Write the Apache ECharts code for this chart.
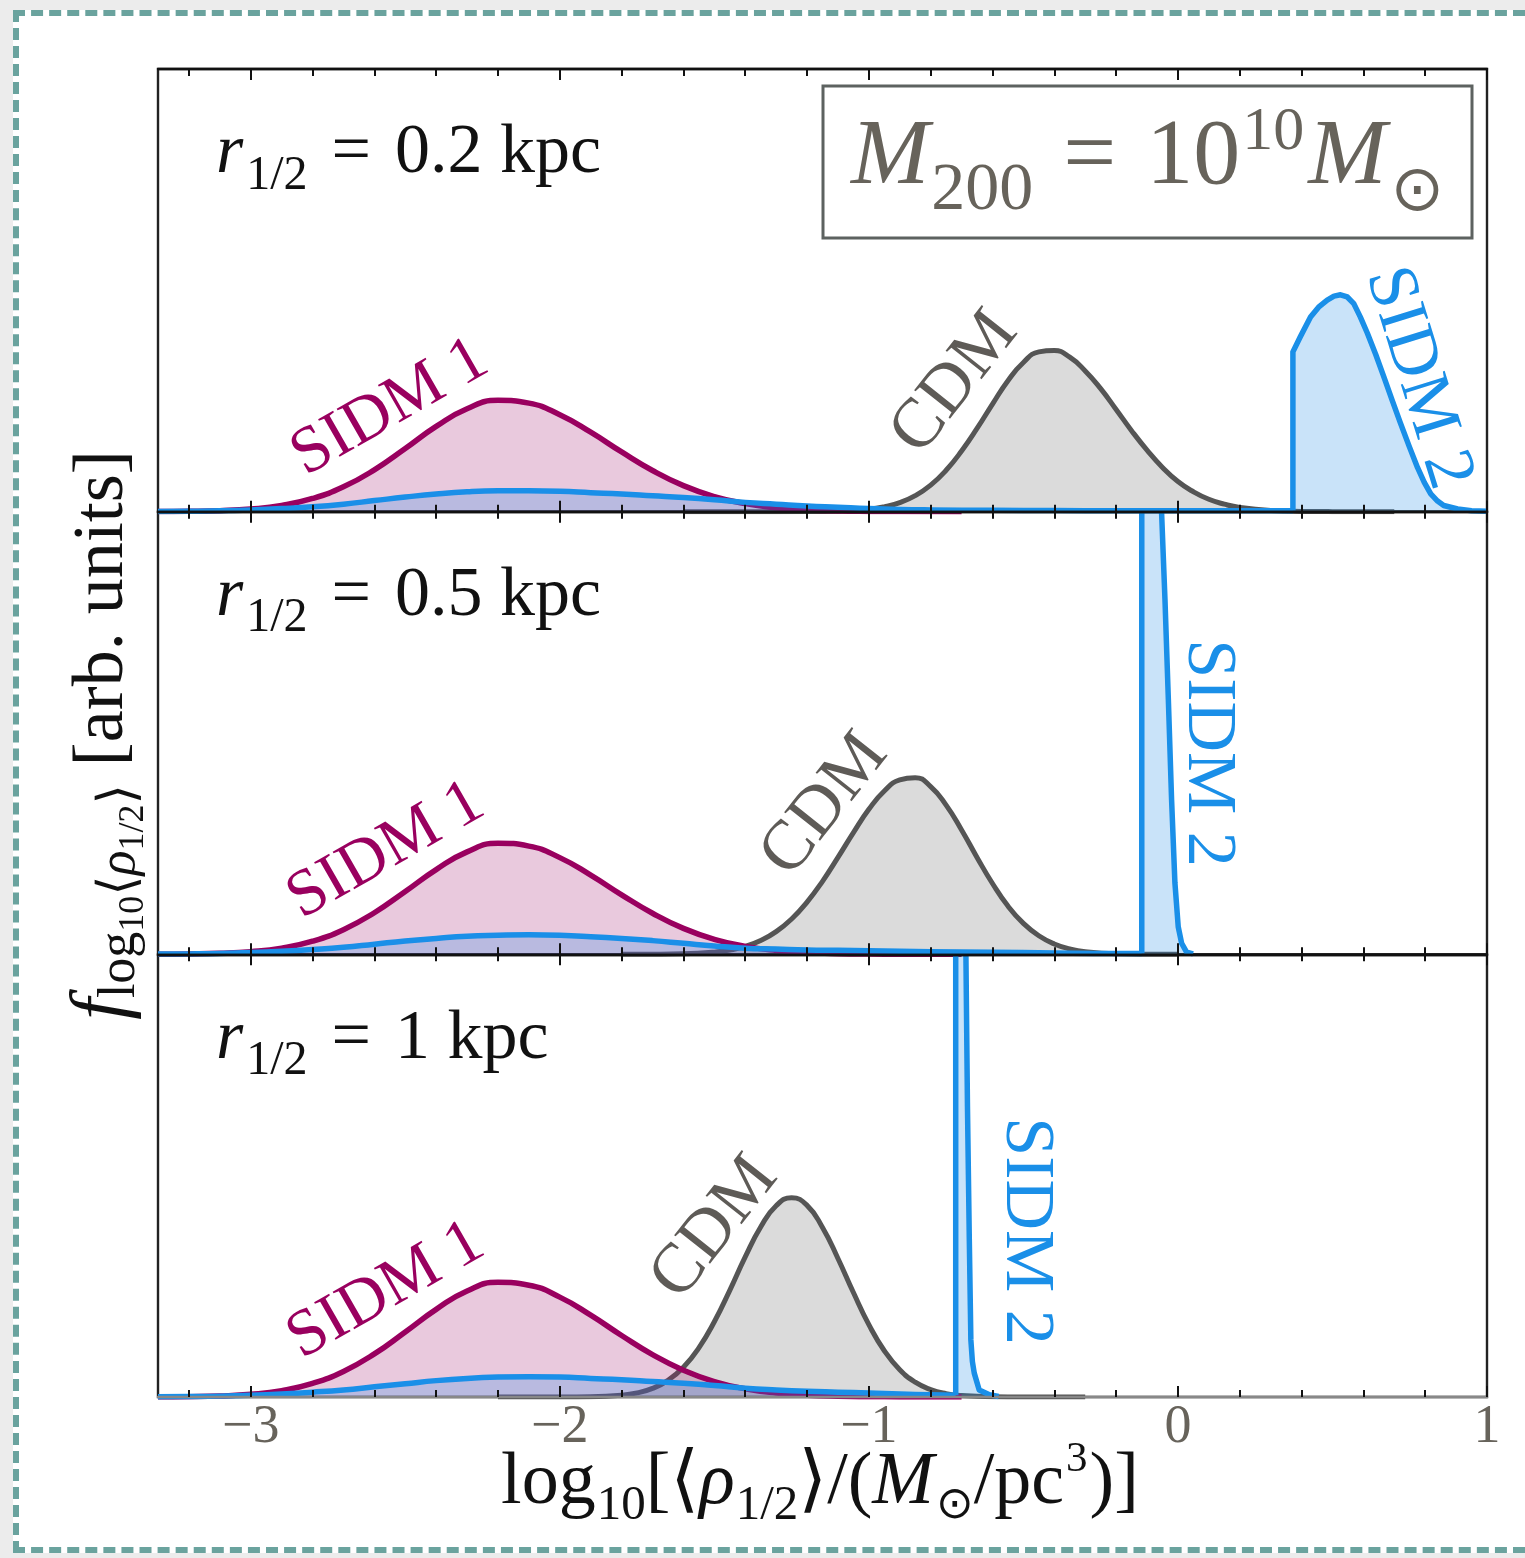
<!DOCTYPE html>
<html>
<head>
<meta charset="utf-8">
<script src="https://cdn.jsdelivr.net/npm/echarts@6/dist/echarts.min.js"></script>
<style>
html,body{margin:0;padding:0;background:#ececec;overflow:hidden;width:1525px;height:1558px;}
#frame{position:absolute;left:13px;top:10px;width:1512px;height:1543px;box-sizing:border-box;border:6px dashed #6aa39e;border-right:none;background:#fff;}
#chart{position:absolute;left:0;top:0;width:1525px;height:1558px;}
</style>
</head>
<body>
<div id="frame"></div>
<div id="chart"></div>
<script>
// ---------------- data ----------------
const X_MIN = -3.3, X_MAX = 1.0;
const MAJOR_TICKS = [-3, -2, -1, 0, 1];
const MINOR_TICKS = [-3.2, -2.8, -2.6, -2.4, -2.2, -1.8, -1.6, -1.4, -1.2, -0.8, -0.6, -0.4, -0.2, 0.2, 0.4, 0.6, 0.8];
const PANEL_RADII = ['0.2 kpc', '0.5 kpc', '1 kpc'];
const SERIES_NAMES = ['CDM', 'SIDM 1', 'SIDM 2'];

// panel 1 : r1/2 = 0.2 kpc
const cdmA = [[-1.6,0],[-1.4,0],[-1.2,0.0002],[-1.1,0.0011],[-1.0,0.0054],[-0.95,0.0109],[-0.9,0.0205],[-0.85,0.0362],[-0.8,0.060],[-0.75,0.0935],[-0.7,0.137],[-0.65,0.188],[-0.6,0.243],[-0.55,0.296],[-0.5,0.337],[-0.45,0.361],[-0.4,0.364],[-0.35,0.349],[-0.3,0.318],[-0.25,0.278],[-0.2,0.231],[-0.15,0.183],[-0.1,0.139],[-0.05,0.100],[0.0,0.068],[0.05,0.045],[0.1,0.028],[0.15,0.017],[0.2,0.0096],[0.3,0.0027],[0.4,0.0006],[0.5,0.0001],[0.7,0]];
const sidm1A = [[-3.3,0.0002],[-3.2,0.0008],[-3.1,0.0023],[-3.0,0.006],[-2.9,0.0141],[-2.8,0.0298],[-2.7,0.0561],[-2.6,0.0945],[-2.5,0.1427],[-2.4,0.1926],[-2.3,0.2326],[-2.2,0.2515],[-2.1,0.2452],[-2.0,0.219],[-1.9,0.1795],[-1.8,0.1349],[-1.7,0.093],[-1.6,0.0588],[-1.5,0.034],[-1.4,0.0181],[-1.3,0.0088],[-1.2,0.004],[-1.1,0.0016],[-1.0,0.0006],[-0.9,0.0002],[-0.7,0]];
const sidm2BroadA = [[-3.3,0.0005],[-3.2,0.001],[-3.1,0.002],[-3.0,0.004],[-2.9,0.007],[-2.8,0.011],[-2.7,0.017],[-2.6,0.025],[-2.5,0.033],[-2.4,0.040],[-2.3,0.045],[-2.2,0.047],[-2.1,0.047],[-2.0,0.046],[-1.9,0.043],[-1.8,0.040],[-1.7,0.036],[-1.6,0.032],[-1.5,0.027],[-1.4,0.021],[-1.3,0.017],[-1.2,0.013],[-1.1,0.010],[-1.0,0.007],[-0.9,0.005],[-0.8,0.004],[-0.6,0.003],[-0.4,0.0025],[-0.2,0.002],[0.0,0.002],[0.2,0.002],[0.372,0.002]];
const sidm2PeakA = [[0.372,0.002],[0.372,0.361],[0.396,0.395],[0.429,0.44],[0.455,0.462],[0.483,0.478],[0.505,0.487],[0.526,0.49],[0.548,0.485],[0.569,0.47],[0.59,0.44],[0.613,0.403],[0.64,0.355],[0.666,0.305],[0.693,0.252],[0.72,0.2],[0.748,0.148],[0.775,0.10],[0.797,0.066],[0.818,0.04],[0.84,0.024],[0.86,0.014],[0.905,0.006],[0.95,0.002],[1.0,0.001]];

// panel 2 : r1/2 = 0.5 kpc
const cdmB = [[-1.8,0],[-1.7,0.0002],[-1.6,0.0011],[-1.5,0.005],[-1.45,0.0098],[-1.4,0.0179],[-1.35,0.0311],[-1.3,0.0512],[-1.25,0.0798],[-1.2,0.118],[-1.15,0.165],[-1.1,0.219],[-1.05,0.275],[-1.0,0.3275],[-0.95,0.369],[-0.9,0.394],[-0.85,0.399],[-0.8,0.379],[-0.75,0.337],[-0.7,0.281],[-0.65,0.219],[-0.6,0.160],[-0.55,0.109],[-0.5,0.070],[-0.45,0.042],[-0.4,0.0235],[-0.35,0.0124],[-0.3,0.0061],[-0.2,0.0012],[-0.1,0.0002],[0.0,0]];
const sidm1B = [[-3.3,0.0002],[-3.2,0.0008],[-3.1,0.0023],[-3.0,0.006],[-2.9,0.014],[-2.8,0.0296],[-2.7,0.0558],[-2.6,0.094],[-2.5,0.142],[-2.4,0.1915],[-2.3,0.2315],[-2.2,0.251],[-2.1,0.2445],[-2.0,0.2185],[-1.9,0.179],[-1.8,0.1345],[-1.7,0.0928],[-1.6,0.0586],[-1.5,0.0339],[-1.4,0.018],[-1.3,0.0088],[-1.2,0.004],[-1.1,0.0016],[-1.0,0.0006],[-0.9,0.0002],[-0.7,0]];
const sidm2BroadB = [[-3.3,0.0005],[-3.2,0.001],[-3.1,0.002],[-3.0,0.004],[-2.9,0.007],[-2.8,0.011],[-2.7,0.016],[-2.6,0.023],[-2.5,0.030],[-2.4,0.036],[-2.3,0.041],[-2.2,0.043],[-2.1,0.044],[-2.0,0.043],[-1.9,0.040],[-1.8,0.036],[-1.7,0.031],[-1.6,0.025],[-1.5,0.019],[-1.4,0.014],[-1.3,0.012],[-1.2,0.010],[-1.1,0.009],[-1.0,0.008],[-0.9,0.007],[-0.8,0.006],[-0.6,0.005],[-0.4,0.003],[-0.2,0.002],[-0.117,0.002]];
const sidm2PeakB = [[-0.117,0.002],[-0.117,1.8],[-0.1,1.9],[-0.08,1.6],[-0.065,1.25],[-0.053,1.0],[-0.042,0.803],[-0.031,0.576],[-0.0205,0.349],[-0.0097,0.161],[0.001,0.062],[0.012,0.025],[0.028,0.005],[0.049,0.001]];

// panel 3 : r1/2 = 1 kpc
const cdmC = [[-2.2,0],[-2.0,0.0001],[-1.9,0.0007],[-1.8,0.0042],[-1.75,0.0094],[-1.7,0.0195],[-1.65,0.0377],[-1.6,0.0672],[-1.55,0.111],[-1.5,0.170],[-1.45,0.241],[-1.4,0.3165],[-1.35,0.384],[-1.3,0.432],[-1.25,0.45],[-1.2,0.433],[-1.15,0.383],[-1.1,0.313],[-1.05,0.236],[-1.0,0.1635],[-0.95,0.1045],[-0.9,0.0616],[-0.85,0.0334],[-0.8,0.0168],[-0.75,0.0077],[-0.7,0.0033],[-0.6,0.0005],[-0.5,0.0001],[-0.3,0]];
const sidm1C = [[-3.3,0.0002],[-3.2,0.0008],[-3.1,0.0024],[-3.0,0.0062],[-2.9,0.0145],[-2.8,0.0307],[-2.7,0.0578],[-2.6,0.0973],[-2.5,0.147],[-2.4,0.198],[-2.3,0.2396],[-2.2,0.259],[-2.1,0.2526],[-2.0,0.2256],[-1.9,0.1849],[-1.8,0.139],[-1.7,0.0958],[-1.6,0.0606],[-1.5,0.035],[-1.4,0.0186],[-1.3,0.0091],[-1.2,0.0041],[-1.1,0.0016],[-1.0,0.0006],[-0.9,0.0002],[-0.7,0]];
const sidm2BroadC = [[-3.3,0.0005],[-3.2,0.001],[-3.1,0.002],[-3.0,0.004],[-2.9,0.007],[-2.8,0.011],[-2.7,0.016],[-2.6,0.023],[-2.5,0.030],[-2.4,0.037],[-2.3,0.042],[-2.2,0.045],[-2.1,0.046],[-2.0,0.045],[-1.9,0.042],[-1.8,0.039],[-1.7,0.035],[-1.6,0.031],[-1.5,0.026],[-1.4,0.020],[-1.3,0.016],[-1.2,0.013],[-1.1,0.011],[-1.0,0.009],[-0.9,0.007],[-0.8,0.005],[-0.719,0.004]];
const sidm2PeakC = [[-0.719,0.004],[-0.719,1.8],[-0.705,1.9],[-0.695,1.5],[-0.686,1.0],[-0.681,0.658],[-0.675,0.356],[-0.67,0.129],[-0.665,0.08],[-0.659,0.054],[-0.643,0.016],[-0.61,0.005],[-0.58,0.001]];

// ---------------- styling ----------------
const SERIF = "'Liberation Serif','DejaVu Serif',serif";
const TXT_GRAY = '#67635b';
const C_CDM = '#555555', F_CDM = 'rgba(90,90,90,0.22)';
const C_S1 = '#99005f', F_S1 = 'rgba(160,20,110,0.23)';
const C_S2 = '#1a8fe8', F_S2 = 'rgba(30,140,230,0.24)';

const GRID_LEFT = 158, GRID_RIGHT = 38, GRID_TOP = 69, PANEL_H = 442.67;

const panels = [
  {cdm: cdmA, s1: sidm1A, s2b: sidm2BroadA, s2p: sidm2PeakA},
  {cdm: cdmB, s1: sidm1B, s2b: sidm2BroadB, s2p: sidm2PeakB},
  {cdm: cdmC, s1: sidm1C, s2b: sidm2BroadC, s2p: sidm2PeakC}
];

const grids = [], xAxes = [], yAxes = [], series = [];

function xAxisDef(gi, pos, ticks, len, showLine, lineColor, labels) {
  return {
    type: 'value', gridIndex: gi, position: pos, min: X_MIN, max: X_MAX, z: 10,
    axisLine: {show: showLine, onZero: false, lineStyle: {color: lineColor, width: 2.4}},
    splitLine: {show: false},
    axisTick: {show: true, inside: true, length: len, customValues: ticks, lineStyle: {color: '#111', width: 2}},
    axisLabel: labels ? {
      show: true, customValues: MAJOR_TICKS,
      formatter: v => String(v).replace('-', '\u2212'),
      color: TXT_GRAY, fontFamily: SERIF, fontSize: 54, margin: 4
    } : {show: false}
  };
}

function lineSeries(gi, name, data, color, fill, width, smooth, z) {
  return {
    type: 'line', name: name, xAxisIndex: gi * 4, yAxisIndex: gi, data: data,
    symbol: 'none', showSymbol: false,
    smooth: smooth ? 0.5 : false,
    lineStyle: {color: color, width: width, join: 'round'},
    areaStyle: {color: fill, opacity: 1},
    clip: true, silent: true, z: z, animation: false
  };
}

panels.forEach((p, i) => {
  grids.push({left: GRID_LEFT, right: GRID_RIGHT, top: GRID_TOP + i * PANEL_H, height: PANEL_H,
    show: true, borderColor: '#222', borderWidth: 2.4, backgroundColor: 'transparent'});
  const last = i === panels.length - 1;
  xAxes.push(xAxisDef(i, 'bottom', MAJOR_TICKS, 11, true, last ? '#888' : '#111', last));
  xAxes.push(xAxisDef(i, 'bottom', MINOR_TICKS, 7, false, '#111', false));
  xAxes.push(xAxisDef(i, 'top', MAJOR_TICKS, 11, true, '#111', false));
  xAxes.push(xAxisDef(i, 'top', MINOR_TICKS, 7, false, '#111', false));
  yAxes.push({type: 'value', gridIndex: i, min: 0, max: 1, show: false});
  series.push(lineSeries(i, SERIES_NAMES[0], p.cdm, C_CDM, F_CDM, 5, true, 2));
  series.push(lineSeries(i, SERIES_NAMES[1], p.s1, C_S1, F_S1, 5.5, true, 3));
  series.push(lineSeries(i, SERIES_NAMES[2], p.s2b, C_S2, F_S2, 5.5, true, 4));
  series.push(lineSeries(i, SERIES_NAMES[2], p.s2p, C_S2, F_S2, 5.5, false, 4));
});

// ---------------- text annotations ----------------
function tok(size, extra) { return Object.assign({fontFamily: SERIF, fontSize: size}, extra || {}); }

const graphics = [];

// panel radius labels
PANEL_RADII.forEach((r, i) => {
  graphics.push({
    type: 'text', x: 216, y: 154 + i * PANEL_H, z: 100, silent: true,
    style: {
      text: '{it|r}{sub|1/2}{eq|=}{n|' + r + '}',
      fill: '#111', align: 'left', verticalAlign: 'middle',
      rich: {
        it: tok(70, {fontStyle: 'italic', fill: '#111'}),
        sub: tok(48, {fill: '#111', padding: [44, 0, 0, 3]}),
        eq: tok(70, {fill: '#111', padding: [0, 24, 0, 24]}),
        n: tok(70, {fill: '#111'})
      }
    }
  });
});

// M200 box
graphics.push({type: 'rect', z: 90, silent: true,
  shape: {x: 823, y: 86, width: 649, height: 152},
  style: {fill: '#fff', stroke: '#5d6260', lineWidth: 3}});
graphics.push({
  type: 'text', x: 851, y: 158, z: 100, silent: true,
  style: {
    text: '{it|M}{sub|200}{eq|=}{n|10}{sup|10}{it|M}{sub2|\u2299}',
    fill: TXT_GRAY, align: 'left', verticalAlign: 'middle',
    rich: {
      it: tok(94, {fontStyle: 'italic', fill: TXT_GRAY}),
      sub: tok(68, {fill: TXT_GRAY, padding: [66, 0, 0, 2]}),
      eq: tok(94, {fill: TXT_GRAY, padding: [0, 30, 0, 30]}),
      n: tok(94, {fill: TXT_GRAY}),
      sup: tok(62, {fill: TXT_GRAY, padding: [0, 4, 50, 2]}),
      sub2: tok(64, {fontFamily: "'DejaVu Sans',sans-serif", fill: TXT_GRAY, padding: [70, 0, 0, 4]})
    }
  }
});

// series labels
const seriesLabelPos = [
  [{x: 955, y: 383, r: 0.90}, {x: 390, y: 408, r: 0.52}, {x: 1418, y: 378, r: -1.27}],
  [{x: 825, y: 805, r: 0.90}, {x: 386, y: 851, r: 0.52}, {x: 1207, y: 753, r: -Math.PI / 2}],
  [{x: 715, y: 1228, r: 0.90}, {x: 386, y: 1291, r: 0.52}, {x: 1025, y: 1231, r: -Math.PI / 2}]
];
const labelColors = ['#5e5b57', C_S1, C_S2];
const labelSizes = [70, 66, 70];
seriesLabelPos.forEach(row => {
  row.forEach((pos, k) => {
    graphics.push({
      type: 'text', x: pos.x, y: pos.y, rotation: pos.r, z: 100, silent: true,
      style: {text: SERIES_NAMES[k], fill: labelColors[k], fontFamily: SERIF, fontSize: labelSizes[k],
        align: 'center', verticalAlign: 'middle'}
    });
  });
});

// x axis title
graphics.push({
  type: 'text', x: 820, y: 1484, z: 100, silent: true,
  style: {
    text: '{n|log}{s|10}{n|[\u27e8}{i|\u03c1}{s|1/2}{n|\u27e9/(}{i|M}{o|\u2299}{n|/pc}{sup|3}{n|)]}',
    fill: '#111', align: 'center', verticalAlign: 'middle',
    rich: {
      n: tok(74, {fill: '#111'}),
      i: tok(74, {fill: '#111', fontStyle: 'italic'}),
      s: tok(49, {fill: '#111', padding: [44, 0, 0, 1]}),
      o: tok(45, {fill: '#111', fontFamily: "'DejaVu Sans',sans-serif", padding: [44, 0, 0, 2]}),
      sup: tok(43, {fill: '#111', padding: [0, 2, 48, 2]})
    }
  }
});

// y axis title
graphics.push({
  type: 'text', x: 103, y: 735, rotation: Math.PI / 2, z: 100, silent: true,
  style: {
    text: '{f|f}{s|log}{ss|10}{s|\u27e8}{si|\u03c1}{ss|1/2}{s|\u27e9}{n| [arb. units]}',
    fill: '#111', align: 'center', verticalAlign: 'middle',
    rich: {
      f: tok(78, {fill: '#111', fontStyle: 'italic'}),
      s: tok(52, {fill: '#111', padding: [34, 0, 0, 0]}),
      si: tok(52, {fill: '#111', fontStyle: 'italic', padding: [34, 0, 0, 0]}),
      ss: tok(36, {fill: '#111', padding: [62, 0, 0, 0]}),
      n: tok(72, {fill: '#111'})
    }
  }
});

const chart = echarts.init(document.getElementById('chart'), null, {renderer: 'canvas'});
chart.setOption({
  backgroundColor: 'transparent',
  animation: false,
  grid: grids,
  xAxis: xAxes,
  yAxis: yAxes,
  series: series,
  graphic: {elements: graphics}
});
</script>
</body>
</html>
